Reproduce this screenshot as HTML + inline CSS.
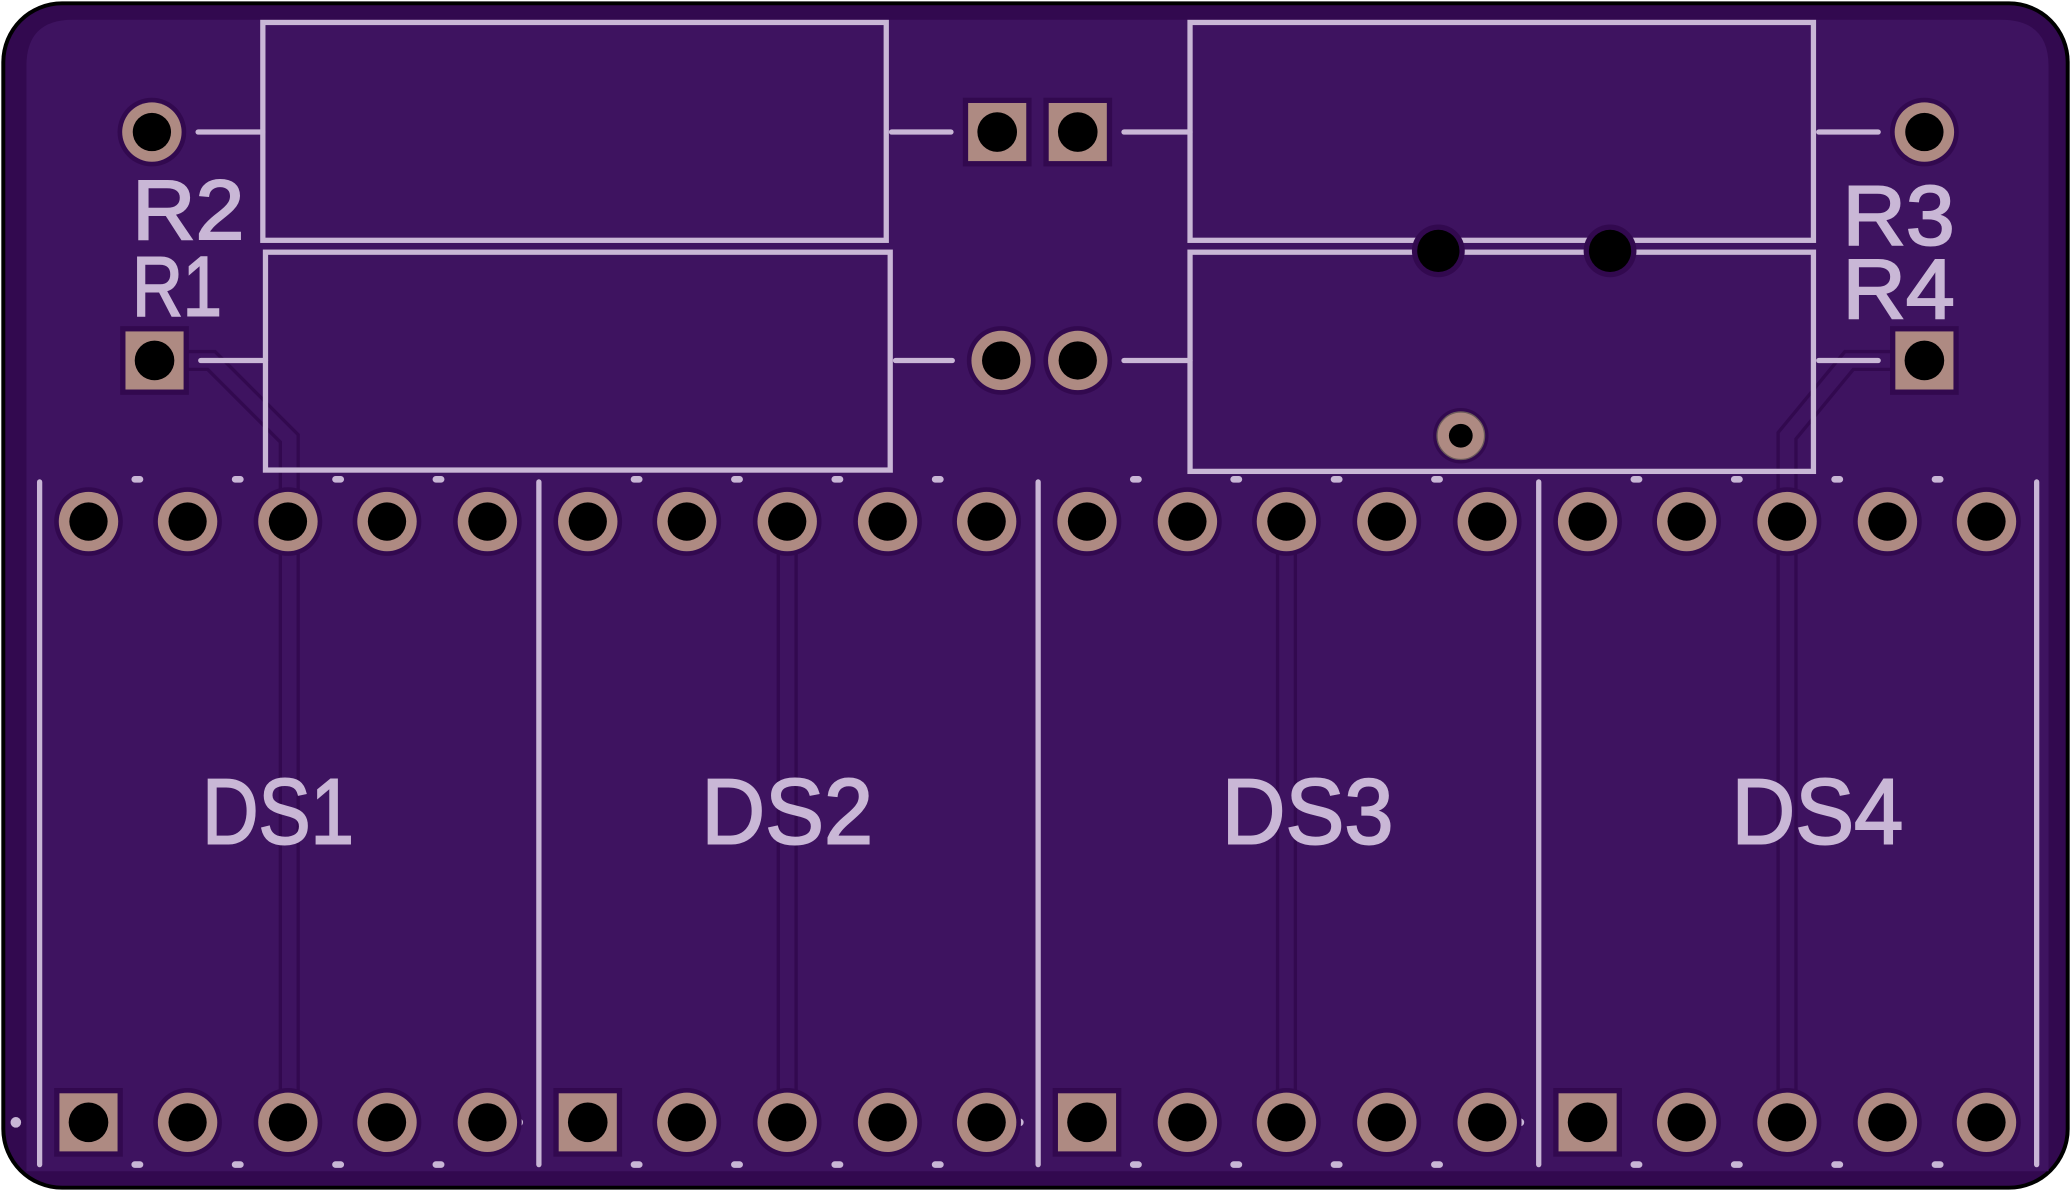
<!DOCTYPE html>
<html><head><meta charset="utf-8"><style>
html,body{margin:0;padding:0;background:#fff;}
svg{display:block;}
text{font-family:"Liberation Sans",sans-serif;fill:#c9b7d6;stroke:#c9b7d6;stroke-width:1.5;}
</style></head><body>
<svg width="2071" height="1191" viewBox="0 0 1568 902" preserveAspectRatio="none" xmlns="http://www.w3.org/2000/svg">
<rect x="0" y="0" width="1568" height="902" fill="#fff"/>
<rect x="1" y="1" width="1566" height="900" rx="46" fill="#000"/>
<rect x="4" y="4" width="1560" height="894" rx="43" fill="#32094f"/>
<path d="M20 50 Q20 15 55 15 H1515 Q1551 15 1551 50 V887 H20 Z" fill="#3e1360"/>
<!-- traces -->
<g fill="none" stroke-linejoin="miter">
<path d="M117 273 H160 L219 332 V850" stroke="#32094f" stroke-width="16"/>
<path d="M117 273 H160 L219 332 V850" stroke="#3e1360" stroke-width="11"/>
<path d="M1457 273 H1400 L1353 330 V850" stroke="#32094f" stroke-width="16"/>
<path d="M1457 273 H1400 L1353 330 V850" stroke="#3e1360" stroke-width="11"/>
<path d="M596 395 V850" stroke="#32094f" stroke-width="16"/>
<path d="M596 395 V850" stroke="#3e1360" stroke-width="11"/>
<path d="M974 395 V850" stroke="#32094f" stroke-width="16"/>
<path d="M974 395 V850" stroke="#3e1360" stroke-width="11"/>
</g>
<!-- silkscreen -->
<g stroke="#c9b7d6" stroke-width="4" fill="none" stroke-linecap="round">
<rect x="199" y="17" width="472" height="165"/>
<rect x="201" y="191" width="473" height="165"/>
<rect x="901" y="17" width="472" height="165"/>
<rect x="901" y="191" width="472" height="166"/>
<line x1="150" y1="100" x2="199" y2="100"/><line x1="675" y1="100" x2="720" y2="100"/>
<line x1="152" y1="273" x2="201" y2="273"/><line x1="678" y1="273" x2="721" y2="273"/>
<line x1="851" y1="100" x2="901" y2="100"/><line x1="1377" y1="100" x2="1422" y2="100"/>
<line x1="851" y1="273" x2="901" y2="273"/><line x1="1377" y1="273" x2="1422" y2="273"/>
<line x1="30" y1="365" x2="30" y2="882"/>
<line x1="408" y1="365" x2="408" y2="882"/>
<line x1="786" y1="365" x2="786" y2="882"/>
<line x1="1165" y1="365" x2="1165" y2="882"/>
<line x1="1542" y1="365" x2="1542" y2="882"/>
<g stroke-width="5">
<path d="M102 363h4M178 363h4M254 363h4M330 363h4M480 363h4M556 363h4M632 363h4M708 363h4M858 363h4M934 363h4M1010 363h4M1086 363h4M1237 363h4M1313 363h4M1389 363h4M1465 363h4"/>
<path d="M102 882h4M178 882h4M254 882h4M330 882h4M480 882h4M556 882h4M632 882h4M708 882h4M858 882h4M934 882h4M1010 882h4M1086 882h4M1237 882h4M1313 882h4M1389 882h4M1465 882h4"/>
</g>
</g>
<circle cx="12" cy="850" r="4" fill="#c9b7d6"/>
<circle cx="393" cy="850" r="3" fill="#c9b7d6"/>
<circle cx="772" cy="850" r="3" fill="#c9b7d6"/>
<circle cx="1151" cy="850" r="3" fill="#c9b7d6"/>
<g font-size="64">
<text x="100" y="181" textLength="85" lengthAdjust="spacingAndGlyphs">R2</text>
<text x="100" y="239" textLength="68" lengthAdjust="spacingAndGlyphs">R1</text>
<text x="1395" y="185" textLength="85" lengthAdjust="spacingAndGlyphs">R3</text>
<text x="1395" y="241" textLength="85" lengthAdjust="spacingAndGlyphs">R4</text>
</g>
<g font-size="70">
<text x="153" y="639" textLength="115" lengthAdjust="spacingAndGlyphs">DS1</text>
<text x="531" y="639" textLength="130" lengthAdjust="spacingAndGlyphs">DS2</text>
<text x="925" y="639" textLength="130" lengthAdjust="spacingAndGlyphs">DS3</text>
<text x="1311" y="639" textLength="130" lengthAdjust="spacingAndGlyphs">DS4</text>
</g>
<!-- pads -->
<defs>
<g id="rp"><circle r="26" fill="#32094f"/><circle r="22.5" fill="#ae8a82"/><circle r="14.5" fill="#000"/></g>
<g id="sp"><rect x="-26" y="-26" width="52" height="52" fill="#32094f"/><rect x="-22" y="-22" width="44" height="44" fill="#ae8a82"/><circle r="15" fill="#000"/></g>
</defs>
<use href="#rp" x="115" y="100"/>
<use href="#sp" x="117" y="273"/>
<use href="#sp" x="755" y="100"/>
<use href="#sp" x="816" y="100"/>
<use href="#rp" x="758" y="273"/>
<use href="#rp" x="816" y="273"/>
<use href="#rp" x="1457" y="100"/>
<use href="#sp" x="1457" y="273"/>
<circle cx="1089" cy="190" r="20" fill="#32094f"/><circle cx="1089" cy="190" r="16" fill="#000"/>
<circle cx="1219" cy="190" r="20" fill="#32094f"/><circle cx="1219" cy="190" r="16" fill="#000"/>
<circle cx="1106" cy="330" r="21" fill="#32094f"/><circle cx="1106" cy="330" r="18" fill="#ae8a82" stroke="#6a5a5a" stroke-width="1"/><circle cx="1106" cy="330" r="9" fill="#000"/>
<g>
<use href="#rp" x="67" y="395"/><use href="#rp" x="142" y="395"/><use href="#rp" x="218" y="395"/><use href="#rp" x="293" y="395"/><use href="#rp" x="369" y="395"/>
<use href="#rp" x="445" y="395"/><use href="#rp" x="520" y="395"/><use href="#rp" x="596" y="395"/><use href="#rp" x="672" y="395"/><use href="#rp" x="747" y="395"/>
<use href="#rp" x="823" y="395"/><use href="#rp" x="899" y="395"/><use href="#rp" x="974" y="395"/><use href="#rp" x="1050" y="395"/><use href="#rp" x="1126" y="395"/>
<use href="#rp" x="1202" y="395"/><use href="#rp" x="1277" y="395"/><use href="#rp" x="1353" y="395"/><use href="#rp" x="1429" y="395"/><use href="#rp" x="1504" y="395"/>
<use href="#sp" x="67" y="850"/><use href="#rp" x="142" y="850"/><use href="#rp" x="218" y="850"/><use href="#rp" x="293" y="850"/><use href="#rp" x="369" y="850"/>
<use href="#sp" x="445" y="850"/><use href="#rp" x="520" y="850"/><use href="#rp" x="596" y="850"/><use href="#rp" x="672" y="850"/><use href="#rp" x="747" y="850"/>
<use href="#sp" x="823" y="850"/><use href="#rp" x="899" y="850"/><use href="#rp" x="974" y="850"/><use href="#rp" x="1050" y="850"/><use href="#rp" x="1126" y="850"/>
<use href="#sp" x="1202" y="850"/><use href="#rp" x="1277" y="850"/><use href="#rp" x="1353" y="850"/><use href="#rp" x="1429" y="850"/><use href="#rp" x="1504" y="850"/>
</g>
</svg>
</body></html>
